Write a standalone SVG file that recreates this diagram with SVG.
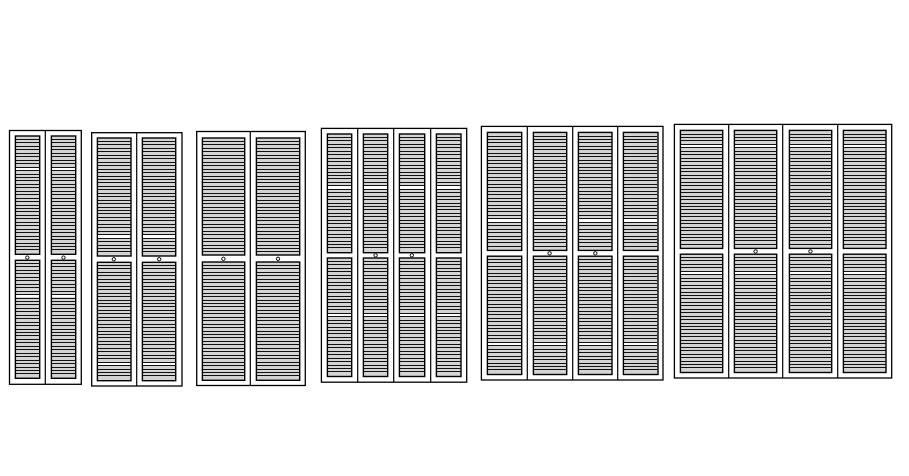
<svg xmlns="http://www.w3.org/2000/svg" width="909" height="476" viewBox="0 0 909 476">
<style>
.f{fill:#fff;stroke:#000;stroke-width:1.3}
.d{stroke:#000;stroke-width:1.2;fill:none}
.l{fill:#d4d4d4;stroke:#000;stroke-width:1.4}
.s{fill:none;stroke:#111;stroke-dasharray:1.04 2.41;shape-rendering:crispEdges}
.b{fill:#fff;stroke:none;shape-rendering:crispEdges}
.h{fill:#fff;stroke:#000;stroke-width:1}
</style>
<rect width="909" height="476" fill="#fff"/>
<g id="door1">
<rect class="f" x="9.5" y="130.5" width="71.8" height="253.8"/>
<path class="d" d="M45.3 130.5V384.3"/>
<rect class="l" x="15.4" y="136" width="24.3" height="118.3"/>
<rect class="l" x="51.4" y="136" width="24.3" height="118.3"/>
<rect class="l" x="15.4" y="260.3" width="24.3" height="118"/>
<rect class="l" x="51.4" y="260.3" width="24.3" height="118"/>
<path class="s" stroke-width="24" d="M27.5 139V252M63.5 139V252M27.5 263V376M63.5 263V376"/>
<path class="b" d="M16 168h23v2h-23zM52 168h23v2h-23zM16 295h23v2h-23zM52 295h23v2h-23z"/>
<circle class="h" cx="27.3" cy="257.6" r="1.7"/>
<circle class="h" cx="63.5" cy="257.6" r="1.7"/>
</g>
<g id="door2">
<rect class="f" x="91.7" y="132.7" width="90.3" height="253.3"/>
<path class="d" d="M136.7 132.7V386"/>
<rect class="l" x="97.4" y="138" width="33.6" height="118"/>
<rect class="l" x="142.4" y="138" width="33.3" height="118"/>
<rect class="l" x="97.4" y="262.3" width="33.6" height="118.4"/>
<rect class="l" x="142.4" y="262.3" width="33.3" height="118.4"/>
<path class="s" stroke-width="33" d="M114.2 141V254M159 141V254M114.2 265V378M159 265V378"/>
<path class="b" d="M98 235h32v3h-32zM143 235h32v3h-32zM98 363h32v2h-32zM143 363h32v2h-32z"/>
<circle class="h" cx="113.8" cy="259.2" r="1.7"/>
<circle class="h" cx="159.2" cy="259.2" r="1.7"/>
</g>
<g id="door3">
<rect class="f" x="196.7" y="131.5" width="108.6" height="254"/>
<path class="d" d="M250.3 131.5V385.5"/>
<rect class="l" x="202.4" y="138" width="42.3" height="117"/>
<rect class="l" x="256.4" y="138" width="43.3" height="117"/>
<rect class="l" x="202.4" y="262" width="42.3" height="118.3"/>
<rect class="l" x="256.4" y="262" width="43.3" height="118.3"/>
<path class="s" stroke-width="42" d="M223.5 141V253M278 141V253M223.5 265V378M278 265V378"/>
<circle class="h" cx="223.4" cy="258.8" r="1.7"/>
<circle class="h" cx="278" cy="258.8" r="1.7"/>
</g>
<g id="door4">
<rect class="f" x="321.4" y="128.4" width="145.3" height="253.8"/>
<path class="d" d="M357.7 128.4V382.2M393.7 128.4V382.2M430.7 128.4V382.2"/>
<rect class="l" x="327.4" y="134" width="24.3" height="118.7"/>
<rect class="l" x="363.4" y="134" width="24.3" height="118.7"/>
<rect class="l" x="399.4" y="134" width="25.3" height="118.7"/>
<rect class="l" x="436.4" y="134" width="24.6" height="118.7"/>
<rect class="l" x="327.4" y="258" width="24.3" height="118.5"/>
<rect class="l" x="363.4" y="258" width="24.3" height="118.5"/>
<rect class="l" x="399.4" y="258" width="25.3" height="118.5"/>
<rect class="l" x="436.4" y="258" width="24.6" height="118.5"/>
<path class="s" stroke-width="24" d="M339.5 137V250M375.5 137V250M412 137V250M448.7 137V250M339.5 261V374M375.5 261V374M412 261V374M448.7 261V374"/>
<path class="b" d="M328 186h23v3h-23zM364 186h23v3h-23zM400 186h24v3h-24zM437 186h23v3h-23zM328 314h23v2h-23zM364 314h23v2h-23zM400 314h24v2h-24zM437 314h23v2h-23z"/>
<circle class="h" cx="375.6" cy="255.3" r="1.7"/>
<circle class="h" cx="411.8" cy="255.3" r="1.7"/>
</g>
<g id="door5">
<rect class="f" x="481.4" y="126.4" width="181.6" height="253.6"/>
<path class="d" d="M527.3 126.4V380M572.7 126.4V380M617.7 126.4V380"/>
<rect class="l" x="487.4" y="132.4" width="34.3" height="118"/>
<rect class="l" x="533.4" y="132.4" width="33.3" height="118"/>
<rect class="l" x="578.4" y="132.4" width="33.6" height="118"/>
<rect class="l" x="623.4" y="132.4" width="34.6" height="118"/>
<rect class="l" x="487.4" y="256.2" width="34.3" height="118.3"/>
<rect class="l" x="533.4" y="256.2" width="33.3" height="118.3"/>
<rect class="l" x="578.4" y="256.2" width="33.6" height="118.3"/>
<rect class="l" x="623.4" y="256.2" width="34.6" height="118.3"/>
<path class="s" stroke-width="33" d="M504.5 135.5V248M550 135.5V248M595.2 135.5V248M640.7 135.5V248M504.5 259V372M550 259V372M595.2 259V372M640.7 259V372"/>
<path class="b" d="M488 219h33v3h-33zM534 219h32v3h-32zM579 219h32v3h-32zM624 219h33v3h-33zM488 343h33v2h-33zM534 343h32v2h-32zM579 343h32v2h-32zM624 343h33v2h-33z"/>
<circle class="h" cx="549.6" cy="253.3" r="1.7"/>
<circle class="h" cx="595.3" cy="253.3" r="1.7"/>
</g>
<g id="door6">
<rect class="f" x="674.4" y="124.4" width="217.3" height="253.6"/>
<path class="d" d="M728.7 124.4V378M782.7 124.4V378M837.7 124.4V378"/>
<rect class="l" x="680.4" y="130.4" width="42.3" height="118"/>
<rect class="l" x="734.4" y="130.4" width="42.3" height="118"/>
<rect class="l" x="789.4" y="130.4" width="42.3" height="118"/>
<rect class="l" x="843.4" y="130.4" width="42.6" height="118"/>
<rect class="l" x="680.4" y="254.2" width="42.3" height="118.3"/>
<rect class="l" x="734.4" y="254.2" width="42.3" height="118.3"/>
<rect class="l" x="789.4" y="254.2" width="42.3" height="118.3"/>
<rect class="l" x="843.4" y="254.2" width="42.6" height="118.3"/>
<path class="s" stroke-width="42" d="M701.5 133.5V246M755.5 133.5V246M810.5 133.5V246M864.7 133.5V246M701.5 257V370M755.5 257V370M810.5 257V370M864.7 257V370"/>
<path class="b" d="M681 145h41v2h-41zM735 145h41v2h-41zM790 145h41v2h-41zM844 145h41v2h-41zM681 272h41v2h-41zM735 272h41v2h-41zM790 272h41v2h-41zM844 272h41v2h-41z"/>
<circle class="h" cx="755.6" cy="251.4" r="1.7"/>
<circle class="h" cx="810.4" cy="251.4" r="1.7"/>
</g>
</svg>
